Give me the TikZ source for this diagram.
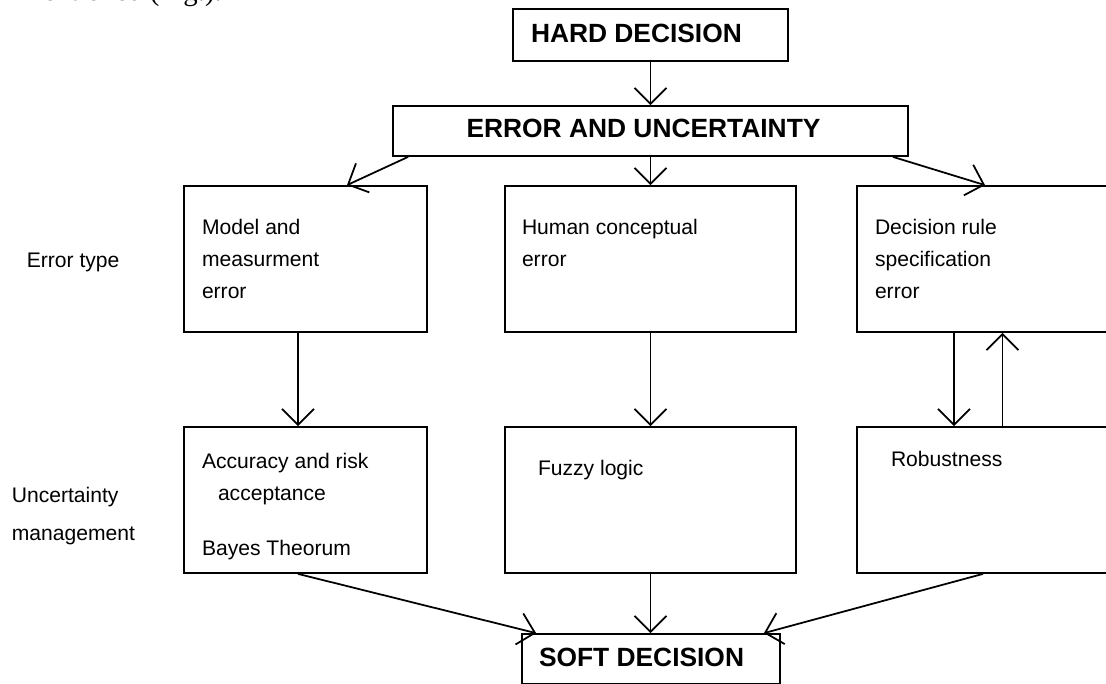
\documentclass[tikz,border=0pt]{standalone}
\usepackage{fontspec}
\setmainfont{Liberation Sans}
\newfontfamily\pageserif{Liberation Serif}
\usetikzlibrary{arrows.meta,positioning,calc}

\begin{document}
\begin{tikzpicture}[x=0.2mm, y=-0.2mm, line width=1pt,
    box/.style={draw, rectangle, inner sep=0pt},
    txt/.style={anchor=base west, inner sep=0pt, font=\fontsize{12}{14}\selectfont},
    ttl/.style={anchor=base west, inner sep=0pt, font=\fontsize{15}{18}\selectfont\bfseries},
    arr/.style={-{Straight Barb[length=0.32cm, width=0.64cm]}}]
  \useasboundingbox (0,0) rectangle (1106,684);

  % cut-off line of the page above
  \node[anchor=base west, inner sep=0pt, font=\pageserif\fontsize{16.4}{18}\selectfont] (pageline) at (20,1) {mentioned (Fig.).};

  % top
  \node[box, minimum width=5.5cm, minimum height=1.04cm] (hard) at (650.5,35) {};
  \node[ttl] (hardtxt) at ($(hard.north west)+(18,34)$) {HARD DECISION};
  \node[box, minimum width=10.3cm, minimum height=1cm] (err) at (650.5,131) {};
  \node[ttl, anchor=base] (errtxt) at ($(err.north)+(-7,32)$) {ERROR AND UNCERTAINTY};

  % error type
  \node[box, minimum width=4.86cm, minimum height=2.92cm] (model) at (305.5,259) {};
  \node[box, minimum width=5.82cm, minimum height=2.92cm] (human) at (650.5,259) {};
  \node[box, minimum width=5.82cm, minimum height=2.92cm] (rule) at (1002.5,259) {};
  \node[txt] (modeltxt) at ($(model.north west)+(18,49)$) {Model and};
  \node[txt] (modeltxtb) at ($(model.north west)+(18,81)$) {measurment};
  \node[txt] (modeltxtc) at ($(model.north west)+(18,113)$) {error};
  \node[txt] (humantxt) at ($(human.north west)+(17,49)$) {Human conceptual};
  \node[txt] (humantxtb) at ($(human.north west)+(17,81)$) {error};
  \node[txt] (ruletxt) at ($(rule.north west)+(18,49)$) {Decision rule};
  \node[txt] (ruletxtb) at ($(rule.north west)+(18,81)$) {specification};
  \node[txt] (ruletxtc) at ($(rule.north west)+(18,113)$) {error};

  % uncertainty management
  \node[box, minimum width=4.86cm, minimum height=2.92cm] (acc) at (305.5,500) {};
  \node[box, minimum width=5.82cm, minimum height=2.92cm] (fuzzy) at (650.5,500) {};
  \node[box, minimum width=5.82cm, minimum height=2.92cm] (robust) at (1002.5,500) {};
  \node[txt] (acctxt) at ($(acc.north west)+(18,42)$) {Accuracy and risk};
  \node[txt] (acctxtb) at ($(acc.north west)+(34,74)$) {acceptance};
  \node[txt] (acctxtc) at ($(acc.north west)+(18,129)$) {Bayes Theorum};
  \node[txt] (fuzzytxt) at ($(fuzzy.north west)+(33,49)$) {Fuzzy logic};
  \node[txt] (robusttxt) at ($(robust.north west)+(34,40)$) {Robustness};

  % bottom
  \node[box, minimum width=5.16cm, minimum height=1cm] (soft) at (651,659) {};
  \node[ttl] (softtxt) at ($(soft.north west)+(17,33)$) {SOFT DECISION};

  % row labels
  \node[txt] (errtype) at (26,267) {Error type};
  \node[txt] (unc) at (11,502) {Uncertainty};
  \node[txt] (unctb) at (11,540) {management};

  % arrows
  \draw[arr] (hard) -- (err);
  \draw[arr] ($(err.south west)+(16,0)$) -- ($(model.north)+(41.5,0)$);
  \draw[arr] (err.south) -- (human.north);
  \draw[arr] ($(err.south east)+(-16,0)$) -- ($(rule.north)+(-17.5,0)$);
  \draw[arr] ($(model.south)+(-7.5,0)$) -- ($(acc.north)+(-7.5,0)$);
  \draw[arr] (human.south) -- (fuzzy.north);
  \draw[arr] ($(rule.south)+(-48.5,0)$) -- ($(robust.north)+(-48.5,0)$);
  \draw[arr] (robust.north) -- (rule.south);
  \draw[arr] ($(acc.south)+(-7.5,0)$) -- ($(soft.north west)+(15,0)$);
  \draw[arr] (fuzzy.south) -- (fuzzy.south |- soft.north);
  \draw[arr] ($(robust.south)+(-19.5,0)$) -- ($(soft.north east)+(-17,0)$);
\end{tikzpicture}
\end{document}
